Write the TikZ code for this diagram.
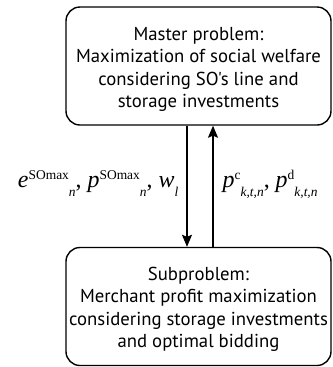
\documentclass[tikz,border=0pt]{standalone}
\usepackage{fontspec}
\setmainfont{Liberation Serif}
\newfontfamily\boxfont{PT Sans}
\usetikzlibrary{arrows.meta}
% script indices set after one another
\newcommand{\supx}[1]{\raisebox{0.36em}{\fontsize{13.5}{13.5}\selectfont #1}}
\newcommand{\subx}[1]{\raisebox{-0.36em}{\fontsize{13.5}{13.5}\selectfont\itshape #1}}
\begin{document}
\begin{tikzpicture}[x=1bp,y=-1bp,line width=1.4bp,>={Stealth[length=12bp,width=10bp,inset=2bp]},
  probbox/.style={draw,rounded corners=14bp,minimum width=265bp,minimum height=118bp,
    align=center,inner sep=0pt,font=\boxfont\fontsize{18.8}{22.5}\selectfont},
  varlabel/.style={inner sep=0pt,font=\fontsize{24}{26}\selectfont}]
\useasboundingbox (0,0) rectangle (333,367);
\clip (0,0) rectangle (333,367);
% problem boxes
\node[probbox] (master) at (198.5,66) {\rule{0pt}{20bp}Master problem:\\Maximization of social welfare\\considering SO's line and\\storage investments};
\node[probbox] (sub) at (198.5,306.5) {\rule{0pt}{19bp}Subproblem:\\Merchant profit maximization\\considering storage investments\\and optimal bidding};
% exchanged variables
\draw[->] ([xshift=-11.5bp]master.south) -- ([xshift=-11.5bp]sub.north)
  node[varlabel,midway,anchor=base east,xshift=-8bp,yshift=-1.5bp] (down)
  {\textit{e}\supx{SOmax}\subx{n}, \textit{p}\supx{SOmax}\subx{n}, \textit{w}\subx{l}};
\draw[->] ([xshift=14.5bp]sub.north) -- ([xshift=14.5bp]master.south)
  node[varlabel,midway,anchor=base west,xshift=9bp,yshift=-1.5bp] (up)
  {\textit{p}\supx{c}\subx{k,t,n}, \textit{p}\supx{d}\subx{k,t,n}};
\end{tikzpicture}
\end{document}
